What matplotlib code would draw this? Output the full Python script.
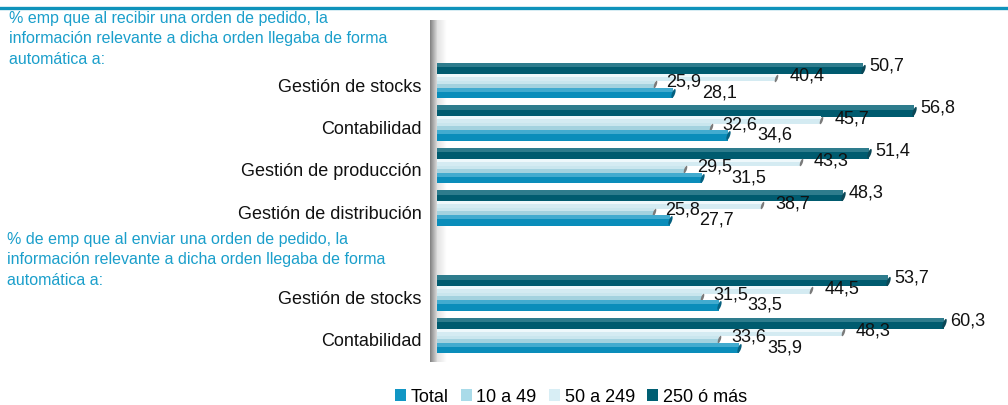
import matplotlib.pyplot as plt
import numpy as np
from matplotlib.patches import Patch

plt.rcParams['font.family'] = ['Liberation Sans', 'DejaVu Sans']

# categorías (de arriba abajo); el hueco en 4 separa los dos bloques
categorias = ['Gestión de stocks', 'Contabilidad', 'Gestión de producción',
              'Gestión de distribución', 'Gestión de stocks', 'Contabilidad']
posiciones = [0, 1, 2, 3, 5, 6]

series = ['Total', '10 a 49', '50 a 249', '250 ó más']
total = [28.1, 34.6, 31.5, 27.7, 33.5, 35.9]
de_10_a_49 = [25.9, 32.6, 29.5, 25.8, 31.5, 33.6]
de_50_a_249 = [40.4, 45.7, 43.3, 38.7, 44.5, 48.3]
de_250_mas = [50.7, 56.8, 51.4, 48.3, 53.7, 60.3]

texto_recibir = ("% emp que al recibir una orden de pedido, la\n"
                 "información relevante a dicha orden llegaba de forma\n"
                 "automática a:")
texto_enviar = ("% de emp que al enviar una orden de pedido, la\n"
                "información relevante a dicha orden llegaba de forma\n"
                "automática a:")

W, H = 1008, 405
fig = plt.figure(figsize=(W / 100, H / 100), dpi=100)


def rect(x0, y0, x1, y1):
    # rectángulo en píxeles (origen arriba a la izquierda) -> coords de figura
    return [x0 / W, 1 - y1 / H, (x1 - x0) / W, (y1 - y0) / H]


ax = fig.add_axes(rect(437, 20, 1000, 362))

# marcador de tapa inclinada para el extremo de cada barra
t = np.linspace(0, 2 * np.pi, 40)
tapa = np.column_stack([0.18 * np.cos(t) + 0.16 * np.sin(t), 0.5 * np.sin(t)])

# (valores, cuerpo, brillo, tapa, desplazamiento, alto, desplazamiento etiqueta en pt)
estilos = [
    (de_250_mas, '#005b6f', '#2e7c8d', '#0b4756', -0.388, 0.26, (4.5, 2.0)),
    (de_50_a_249, '#d4ebf2', '#eef8fb', '#7a7a7a', -0.176, 0.17, (9.5, 0.8)),
    (de_10_a_49, '#a3d2df', '#c9e6ee', '#7a7a7a', -0.012, 0.17, (8.5, 1.5)),
    (total, '#0a8dba', '#42abcf', '#05607f', 0.188, 0.24, (21.0, 0.0)),
]

pos = np.array(posiciones, dtype=float)
for z, (vals, cuerpo, brillo, col_tapa, dy, h, off) in enumerate(estilos):
    y = pos + dy
    ax.barh(y, vals, height=h, color=cuerpo, zorder=2 + z)
    ax.barh(y - h * 0.3, vals, height=h * 0.4, color=brillo, zorder=2 + z)
    ax.scatter(vals, y, marker=tapa, s=h * 170, color=col_tapa,
               linewidths=0, zorder=2.5 + z)
    for v, yy in zip(vals, y):
        ax.annotate(f'{v:.1f}'.replace('.', ','), (v, yy), xytext=off,
                    textcoords='offset points', ha='left', va='center',
                    fontsize=13, color='#111111', zorder=10)

ax.set_xlim(0, 67)
ax.set_ylim(6.52, -1.53)
ax.set_yticks(posiciones)
ax.set_yticklabels(categorias, fontsize=13, color='#111111')
ax.tick_params(axis='y', length=0, pad=11)
ax.set_xticks([])
for s in ax.spines.values():
    s.set_visible(False)
ax.patch.set_alpha(0)

# pared lateral gris del gráfico 3D
pared = fig.add_axes(rect(430, 20, 437, 362))
grad = np.linspace(0.5, 0.85, 50)[None, :]
pared.imshow(grad, cmap='gray', vmin=0, vmax=1, aspect='auto')
pared.axis('off')
sombra = fig.add_axes(rect(437, 20, 446, 362))
sombra.imshow(np.linspace(0.88, 1.0, 50)[None, :], cmap='gray', vmin=0,
              vmax=1, aspect='auto')
sombra.axis('off')
sombra.set_zorder(-1)

# línea superior
fig.add_artist(plt.Line2D([0, 1], [1 - 8 / H, 1 - 8 / H], color='#0f93bb',
                          lw=2.4, transform=fig.transFigure))

fig.text(9 / W, 1 - 11 / H, texto_recibir, ha='left', va='top',
         fontsize=11.5, color='#1b9fcb', linespacing=1.45)
fig.text(7 / W, 1 - 232 / H, texto_enviar, ha='left', va='top',
         fontsize=11.5, color='#1b9fcb', linespacing=1.45)

colores_leyenda = ['#1196c4', '#a9dbe9', '#d8eef5', '#005f73']
handles = [Patch(facecolor=c, edgecolor='none') for c in colores_leyenda]
fig.legend(handles, series, loc='center', bbox_to_anchor=(571 / W, 1 - 397 / H),
           ncol=4, frameon=False, fontsize=13, handlelength=0.6,
           handleheight=0.6, handletextpad=0.25, columnspacing=0.7)

fig.savefig('out.png', dpi=100)
